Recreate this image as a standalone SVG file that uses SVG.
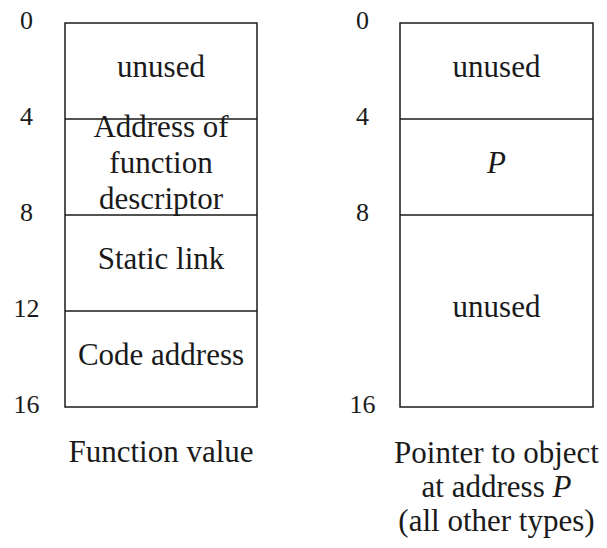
<svg xmlns="http://www.w3.org/2000/svg" width="607" height="548" viewBox="0 0 607 548">
<style>
.box{fill:#ffffff;stroke:#1a1a1a;stroke-width:1.5}
.div{stroke:#1a1a1a;stroke-width:1.5}
</style>
<rect width="607" height="548" fill="#ffffff"/>
<g id="left-offsets" fill="#1a1a1a" text-anchor="middle">
<text x="26.5" y="29" style="font-family:'Liberation Serif',serif !important;font-size:26px">0</text>
<text x="26.5" y="125" style="font-family:'Liberation Serif',serif !important;font-size:26px">4</text>
<text x="26.5" y="221" style="font-family:'Liberation Serif',serif !important;font-size:26px">8</text>
<text x="26.5" y="317" style="font-family:'Liberation Serif',serif !important;font-size:26px">12</text>
<text x="26.5" y="413" style="font-family:'Liberation Serif',serif !important;font-size:26px">16</text>
</g>
<g id="function-value" fill="#1a1a1a" text-anchor="middle">
<rect class="box" x="65" y="23" width="192" height="384"/>
<line class="div" x1="65" y1="119" x2="257" y2="119"/>
<line class="div" x1="65" y1="215" x2="257" y2="215"/>
<line class="div" x1="65" y1="311" x2="257" y2="311"/>
<text x="161" y="77" style="font-family:'Liberation Serif',serif !important;font-size:31px">unused</text>
<text x="161" y="137" style="font-family:'Liberation Serif',serif !important;font-size:31px">Address of</text>
<text x="161" y="173" style="font-family:'Liberation Serif',serif !important;font-size:31px">function</text>
<text x="161" y="209" style="font-family:'Liberation Serif',serif !important;font-size:31px">descriptor</text>
<text x="161" y="269" style="font-family:'Liberation Serif',serif !important;font-size:31px">Static link</text>
<text x="161" y="365" style="font-family:'Liberation Serif',serif !important;font-size:31px">Code address</text>
<text x="161" y="462" style="font-family:'Liberation Serif',serif !important;font-size:31px">Function value</text>
</g>
<g id="right-offsets" fill="#1a1a1a" text-anchor="middle">
<text x="362.5" y="29" style="font-family:'Liberation Serif',serif !important;font-size:26px">0</text>
<text x="362.5" y="125" style="font-family:'Liberation Serif',serif !important;font-size:26px">4</text>
<text x="362.5" y="221" style="font-family:'Liberation Serif',serif !important;font-size:26px">8</text>
<text x="362.5" y="413" style="font-family:'Liberation Serif',serif !important;font-size:26px">16</text>
</g>
<g id="pointer" fill="#1a1a1a" text-anchor="middle">
<rect class="box" x="400" y="23" width="193" height="384"/>
<line class="div" x1="400" y1="119" x2="593" y2="119"/>
<line class="div" x1="400" y1="215" x2="593" y2="215"/>
<text x="496.5" y="77" style="font-family:'Liberation Serif',serif !important;font-size:31px">unused</text>
<text x="496.5" y="173" style="font-family:'Liberation Serif',serif !important;font-size:31px;font-style:italic">P</text>
<text x="496.5" y="317" style="font-family:'Liberation Serif',serif !important;font-size:31px">unused</text>
<text x="496.5" y="463" style="font-family:'Liberation Serif',serif !important;font-size:31px">Pointer to object</text>
<text x="496.5" y="497" style="font-family:'Liberation Serif',serif !important;font-size:31px">at address <tspan style="font-style:italic">P</tspan></text>
<text x="496.5" y="531" style="font-family:'Liberation Serif',serif !important;font-size:31px">(all other types)</text>
</g>
<g id="connectors"></g>
</svg>
